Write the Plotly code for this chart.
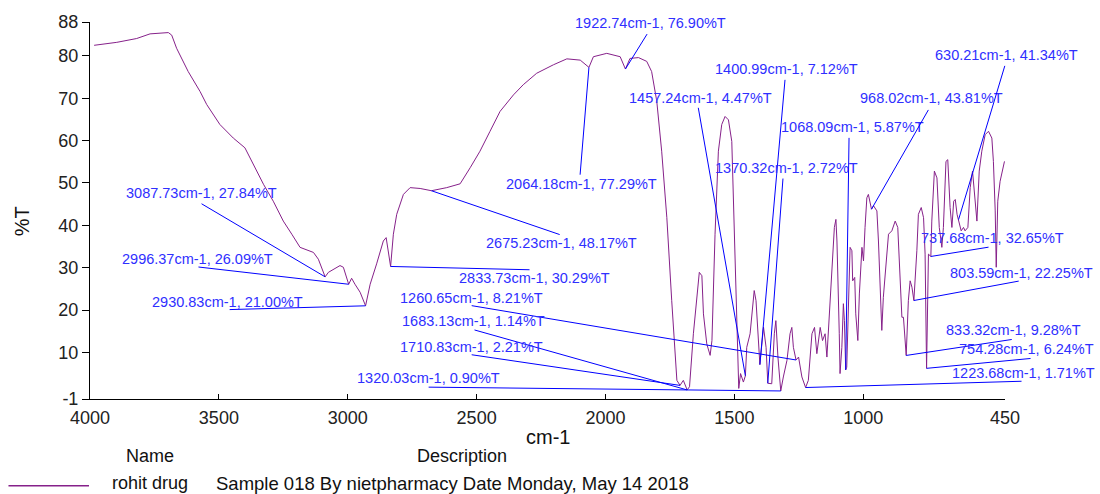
import plotly.graph_objects as go

# ---- spectrum data (wavenumber cm-1, %T) ----
wavenumber = [3984, 3896, 3819, 3767, 3696, 3683, 3664, 3619, 3573, 3547, 3496, 3444, 3399, 3366,
              3327, 3289, 3250, 3217, 3185, 3133, 3114, 3087.73, 3075, 3030, 3017, 2996.37, 2985,
              2972, 2952, 2930.83, 2913, 2888, 2862, 2851, 2833.73, 2823, 2810, 2784, 2758, 2719,
              2675.23, 2616, 2564, 2525, 2487, 2448, 2409, 2357, 2319, 2267, 2202, 2150, 2098,
              2064.18, 2047, 1995, 1943, 1922.74, 1905, 1872, 1840, 1821, 1801, 1782, 1762, 1743,
              1723, 1710.83, 1698, 1683.13, 1674, 1659, 1646, 1636, 1626, 1620, 1607, 1594, 1587,
              1575, 1562, 1549, 1536, 1523, 1510, 1500, 1491, 1483, 1476, 1465, 1457.24, 1452,
              1439, 1423, 1416, 1407, 1400.99, 1387, 1377, 1370.32, 1355, 1345, 1339, 1331,
              1320.03, 1310, 1296, 1284, 1277, 1271, 1260.65, 1251, 1238, 1223.68, 1213, 1199,
              1189, 1180, 1167, 1158, 1148, 1141, 1132, 1122, 1112, 1106, 1102, 1093, 1090, 1083,
              1077, 1073, 1068.09, 1064, 1057, 1051, 1044, 1041, 1033, 1029, 1021, 1015, 1005,
              999, 993, 986, 980, 968.02, 960, 947, 941, 934, 928, 922, 915, 902, 889, 876, 866,
              857, 850, 844, 837, 833.32, 825, 818, 811, 803.59, 792, 786, 775, 766, 760, 754.28,
              747, 737.68, 734, 724, 714, 705, 695, 689, 679, 672, 663, 656, 649, 643, 636,
              630.21, 620, 611, 605, 594, 585, 576, 568, 559, 550, 540, 527, 514, 501, 495, 488,
              484, 478, 469, 452]
transmittance = [82.5, 83.2, 84.1, 85.2, 85.5, 84.9, 81.8, 76.3, 71.6, 68.5, 63.8, 60.6, 58.3, 54.4,
                 49.7, 45.7, 41.0, 37.9, 34.8, 33.6, 32.0, 27.84, 28.9, 30.5, 30.1, 26.09, 27.5,
                 26.1, 24.2, 21.00, 26.1, 30.9, 36.3, 37.1, 30.29, 37.9, 42.6, 47.3, 48.9, 48.7,
                 48.17, 48.9, 49.8, 53.6, 57.5, 62.2, 66.9, 70.8, 73.2, 75.9, 77.9, 79.3, 79.0,
                 77.29, 79.8, 80.6, 79.8, 76.90, 79.4, 79.6, 78.7, 76.3, 69.3, 57.5, 41.8, 22.2,
                 3.4, 2.21, 3.4, 1.14, 1.9, 14.4, 22.2, 28.9, 28.1, 19.1, 12.0, 9.3, 12.8,
                 37.9, 57.5, 63.8, 65.7, 64.9, 59.8, 37.9, 14.4, 1.5, 5.0, 3.0, 4.47, 11.2,
                 14.4, 24.6, 22.2, 12.8, 7.12, 16.0, 11.2, 2.72, 2.6, 14.4, 17.5, 8.9,
                 0.90, 4.2, 8.1, 14.4, 15.9, 11.2, 8.21, 8.9, 4.2, 1.71, 3.4, 14.4,
                 15.9, 9.7, 15.9, 12.8, 14.4, 8.9, 18.3, 29.3, 39.5, 41.4, 36.3, 14.4, 5.0, 11.2,
                 21.5, 17.5, 5.87, 6.5, 19.9, 34.8, 34.0, 26.9, 27.7, 19.1, 12.8, 23.8, 34.8,
                 31.6, 39.5, 46.5, 47.3, 43.81, 44.6, 43.4, 36.3, 23.8, 15.2, 23.0, 28.5, 37.9, 38.7, 41.0, 39.5,
                 26.2, 18.3, 18.3, 11.2, 9.28, 22.2, 26.9, 25.4, 22.25, 34.0, 42.6, 44.2, 41.8, 33.2, 6.24,
                 33.2, 32.65, 41.0, 52.8, 51.2, 39.5, 34.8, 39.5, 55.1, 55.5, 44.2, 39.5, 45.7, 46.1, 42.6,
                 41.34, 38.7, 39.5, 38.7, 39.5, 48.9, 52.8, 46.5, 41.0, 52.8, 57.5, 61.4, 62.2, 60.6, 55.1, 43.4,
                 30.1, 45.7, 50.4, 55.1]

# ---- labelled peaks ----
peak_wn = [3087.73, 2996.37, 2930.83, 2833.73, 2675.23, 2064.18, 1922.74, 1457.24, 1400.99, 1370.32,
           1068.09, 968.02, 630.21, 737.68, 803.59, 833.32, 754.28, 1223.68, 1260.65, 1683.13,
           1710.83, 1320.03]
peak_t = [27.84, 26.09, 21.00, 30.29, 48.17, 77.29, 76.90, 4.47, 7.12, 2.72,
          5.87, 43.81, 41.34, 32.65, 22.25, 9.28, 6.24, 1.71, 8.21, 1.14,
          2.21, 0.90]

x_ticks = [4000, 3500, 3000, 2500, 2000, 1500, 1000, 450]
y_ticks = [-1, 10, 20, 30, 40, 50, 60, 70, 80, 88]

sample_name = "rohit drug"
sample_desc = "Sample 018 By nietpharmacy Date Monday, May 14 2018"

X_RANGE = [4000, 450]
Y_RANGE = [-1, 88]

# label placement (layout): text centre and leader-line tail, in axis units
label_pos = [(3569, 47.6), (3583, 32.1), (3466, 21.8), (2277, 27.6), (2170, 35.9), (2093, 49.7),
             (1827, 87.8), (1631, 70.0), (1297, 76.8), (1297, 53.5), (1043, 63.1), (737, 70.0),
             (445, 80.3), (500, 37.0), (385, 28.8), (416, 15.4), (366, 10.7), (378, 5.1),
             (2518, 22.9), (2512, 17.5), (2518, 11.2), (2686, 3.9)]
tail_pos = [(3573, 45.3), (3585, 30.2), (3464, 20.1), (2289, 29.5), (2172, 37.7), (2099, 51.6),
            (1835, 85.5), (1641, 68.1), (1303, 74.7), (1311, 51.4), (1055, 61.0), (744, 67.6),
            (449, 78.0), (508, 34.9), (391, 26.9), (418, 13.1), (345, 8.6), (380, 3.2),
            (2525, 21.1), (2514, 15.4), (2525, 9.5), (2692, 1.8)]

LINE = "#86218A"
BLUE = "#0000FF"
TXT_BLUE = "#2F2FFF"
FONT = "Liberation Sans, Arial, sans-serif"


def to_domain(wn, t):
    return ((X_RANGE[0] - wn) / (X_RANGE[0] - X_RANGE[1]),
            (t - Y_RANGE[0]) / (Y_RANGE[1] - Y_RANGE[0]))


fig = go.Figure()
fig.add_trace(go.Scatter(x=wavenumber, y=transmittance, mode="lines",
                         line=dict(color=LINE, width=1), showlegend=False, hoverinfo="skip"))

annotations = []
for wn, t, (lx, ly), (tx, ty) in zip(peak_wn, peak_t, label_pos, tail_pos):
    annotations.append(dict(x=wn, y=t, xref="x", yref="y", ax=tx, ay=ty, axref="x", ayref="y",
                             text="", showarrow=True, arrowhead=0, arrowwidth=1,
                             arrowcolor=BLUE, standoff=0, startstandoff=0))
    dx, dy = to_domain(lx, ly)
    annotations.append(dict(x=dx, y=dy, xref="x domain", yref="y domain", showarrow=False,
                            text=f"{wn:.2f}cm-1, {t:.2f}%T", xanchor="center", yanchor="middle",
                            font=dict(family=FONT, size=14.5, color=TXT_BLUE)))

annotations += [
    dict(x=0.5005, y=-0.102, xref="paper", yref="paper", text="cm-1", showarrow=False,
         font=dict(family=FONT, size=20, color="#111"), xanchor="center", yanchor="middle"),
    dict(x=-0.0743, y=0.4716, xref="paper", yref="paper", text="%T", showarrow=False, textangle=-90,
         font=dict(family=FONT, size=20, color="#111"), xanchor="center", yanchor="middle"),
    dict(x=0.0656, y=-0.152, xref="paper", yref="paper", text="Name", showarrow=False,
         font=dict(family=FONT, size=18, color="#111"), xanchor="center", yanchor="middle"),
    dict(x=0.4066, y=-0.152, xref="paper", yref="paper", text="Description", showarrow=False,
         font=dict(family=FONT, size=18, color="#111"), xanchor="center", yanchor="middle"),
    dict(x=0.0219, y=-0.224, xref="paper", yref="paper", text=sample_name, showarrow=False,
         font=dict(family=FONT, size=18, color="#111"), xanchor="left", yanchor="middle"),
    dict(x=0.135, y=-0.224, xref="paper", yref="paper", text=sample_desc, showarrow=False,
         font=dict(family=FONT, size=18.5, color="#111"), xanchor="left", yanchor="middle"),
]

fig.update_layout(
    width=1100, height=494,
    margin=dict(l=90, r=95, t=20, b=95),
    paper_bgcolor="white", plot_bgcolor="white",
    annotations=annotations,
    shapes=[dict(type="line", xref="paper", yref="paper", x0=-0.0891, x1=-0.0011, y0=-0.23, y1=-0.23,
                 line=dict(color=LINE, width=1.5))],
    xaxis=dict(range=X_RANGE, tickvals=x_ticks, ticktext=[str(v) for v in x_ticks],
               showgrid=False, zeroline=False, showline=True, linecolor="black", linewidth=1,
               ticks="inside", ticklen=5, tickcolor="black", ticklabelstandoff=2,
               tickfont=dict(family=FONT, size=18, color="#222")),
    yaxis=dict(range=Y_RANGE, tickvals=y_ticks, ticktext=[str(v) for v in y_ticks],
               showgrid=False, zeroline=False, showline=True, linecolor="black", linewidth=1,
               ticks="outside", ticklen=7, tickcolor="black",
               tickfont=dict(family=FONT, size=18, color="#222")),
)

fig.write_html("out.html")
